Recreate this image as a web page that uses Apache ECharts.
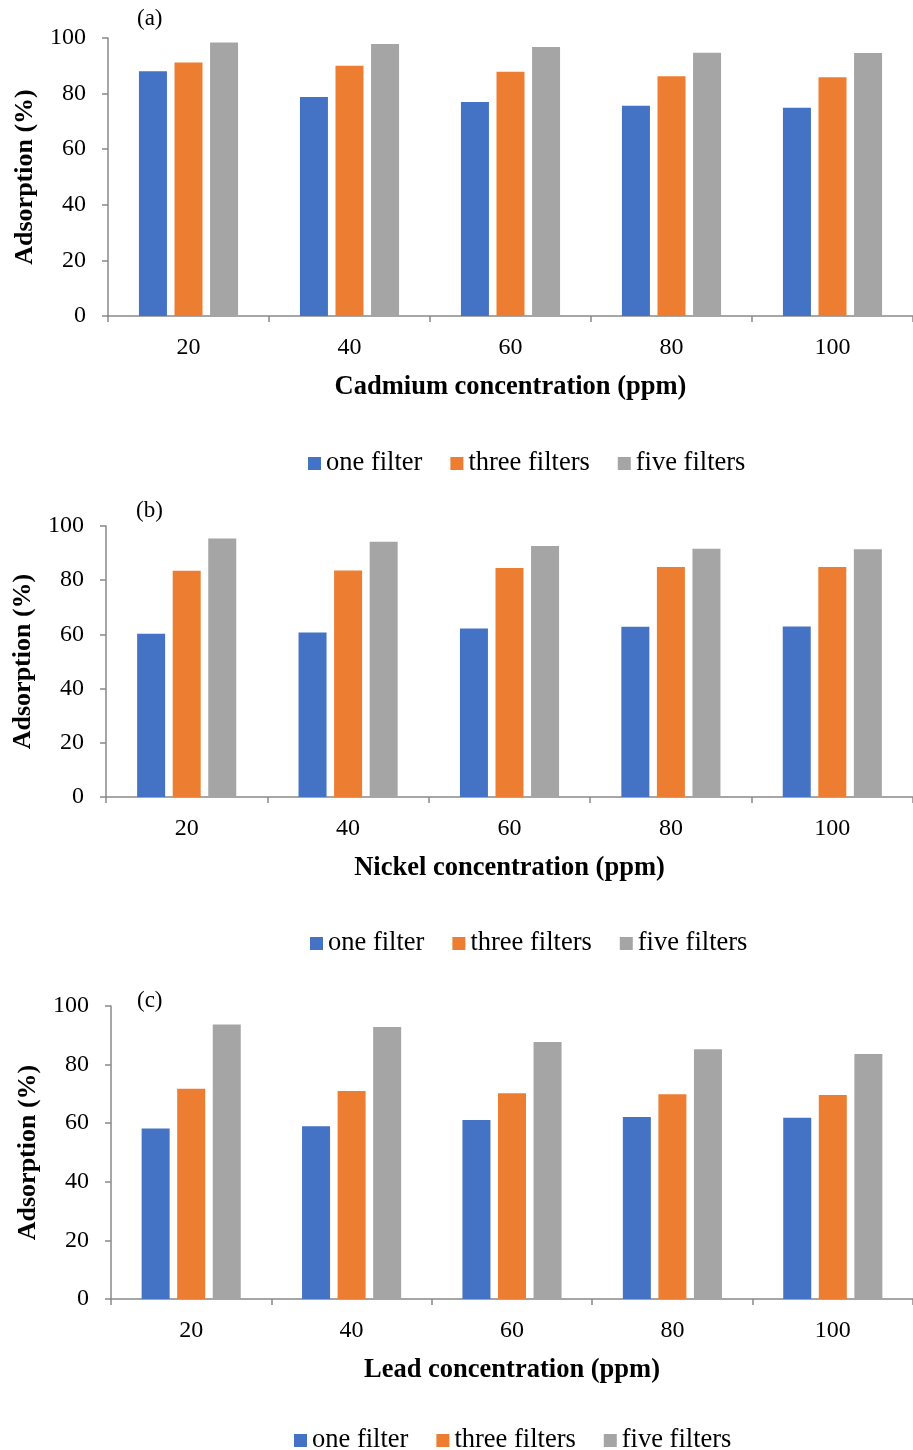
<!DOCTYPE html>
<html>
<head>
<meta charset="utf-8">
<script src="https://cdn.jsdelivr.net/npm/echarts@6/dist/echarts.min.js"></script>
<style>
  html, body { margin: 0; padding: 0; background: #fff; }
  #chart { width: 913px; height: 1450px; }
</style>
</head>
<body>
<div id="chart"></div>
<script>
// concentrations (ppm)
const categories = ['20', '40', '60', '80', '100'];
const seriesNames = ['one filter', 'three filters', 'five filters'];

// (a) cadmium
const cdOne = [88.0, 78.8, 77.0, 75.6, 74.9];
const cdThree = [91.2, 90.0, 87.9, 86.2, 85.9];
const cdFive = [98.4, 97.8, 96.8, 94.7, 94.6];

// (b) nickel
const niOne = [60.2, 60.7, 62.2, 62.8, 62.9];
const niThree = [83.5, 83.6, 84.5, 84.9, 84.9];
const niFive = [95.4, 94.2, 92.6, 91.6, 91.4];

// (c) lead
const pbOne = [58.2, 59.0, 61.1, 62.1, 61.9];
const pbThree = [71.8, 71.0, 70.2, 69.9, 69.6];
const pbFive = [93.7, 92.8, 87.7, 85.2, 83.6];

const yTicks = [0, 20, 40, 60, 80, 100];

const colors = ['#4472C4', '#ED7D31', '#A5A5A5'];
const font = "'Liberation Serif', 'Times New Roman', serif";

const panels = [
  { tag: '(a)', xName: 'Cadmium concentration (ppm)', data: [cdOne, cdThree, cdFive],
    grid: { left: 108, top: 38, height: 278 }, tagPos: [137, 7], legend: { left: 303, top: 445 } },
  { tag: '(b)', xName: 'Nickel concentration (ppm)', data: [niOne, niThree, niFive],
    grid: { left: 106, top: 526, height: 271 }, tagPos: [136, 499], legend: { left: 305, top: 925 } },
  { tag: '(c)', xName: 'Lead concentration (ppm)', data: [pbOne, pbThree, pbFive],
    grid: { left: 111, top: 1006, height: 293 }, tagPos: [137, 989], legend: { left: 289, top: 1422 } }
];

const axisColor = '#898989';

const chart = echarts.init(document.getElementById('chart'));

const option = {
  backgroundColor: '#fff',
  animation: false,
  color: colors,
  title: panels.map(p => ({
    text: p.tag,
    left: p.tagPos[0],
    top: p.tagPos[1],
    padding: 0,
    textStyle: { fontFamily: font, fontSize: 23, fontWeight: 'normal', color: '#000' }
  })),
  legend: panels.map((p, i) => ({
    data: seriesNames.map(n => ({ name: n + '\u200b'.repeat(i) })),
    left: p.legend.left,
    top: p.legend.top,
    orient: 'horizontal',
    icon: 'rect',
    itemWidth: 13,
    itemHeight: 13,
    itemGap: 28,
    textStyle: { fontFamily: font, fontSize: 26.5, color: '#000' },
    selectedMode: false
  })),
  grid: panels.map(p => ({
    left: p.grid.left,
    top: p.grid.top,
    height: p.grid.height,
    right: 0,
    containLabel: false
  })),
  xAxis: panels.map((p, i) => ({
    type: 'category',
    gridIndex: i,
    data: categories,
    name: p.xName,
    nameLocation: 'middle',
    nameGap: 58,
    nameTextStyle: { fontFamily: font, fontSize: 26.5, fontWeight: 'bold', color: '#000' },
    axisLine: { lineStyle: { color: axisColor, width: 1.5 } },
    axisTick: { show: true, length: 6, lineStyle: { color: axisColor, width: 1.5 } },
    axisLabel: { fontFamily: font, fontSize: 24, color: '#000', margin: 20 },
    splitLine: { show: false }
  })),
  yAxis: panels.map((p, i) => ({
    type: 'value',
    gridIndex: i,
    min: 0,
    max: 100,
    interval: 20,
    name: 'Adsorption (%)',
    nameLocation: 'middle',
    nameGap: 70,
    nameRotate: 90,
    nameTextStyle: { fontFamily: font, fontSize: 26, fontWeight: 'bold', color: '#000' },
    axisLine: { show: true, lineStyle: { color: axisColor, width: 1.5 } },
    axisTick: { show: true, length: 6, lineStyle: { color: axisColor, width: 1.5 } },
    axisLabel: {
      fontFamily: font, fontSize: 24, color: '#000', margin: 22,
      formatter: v => (yTicks.includes(v) ? String(v) : '')
    },
    splitLine: { show: false }
  })),
  series: []
};

panels.forEach((p, i) => {
  p.data.forEach((vals, k) => {
    option.series.push({
      name: seriesNames[k] + '\u200b'.repeat(i),
      type: 'bar',
      xAxisIndex: i,
      yAxisIndex: i,
      data: vals,
      barWidth: 28,
      barGap: '27%',
      itemStyle: { color: colors[k] }
    });
  });
});

chart.setOption(option);
</script>
</body>
</html>
